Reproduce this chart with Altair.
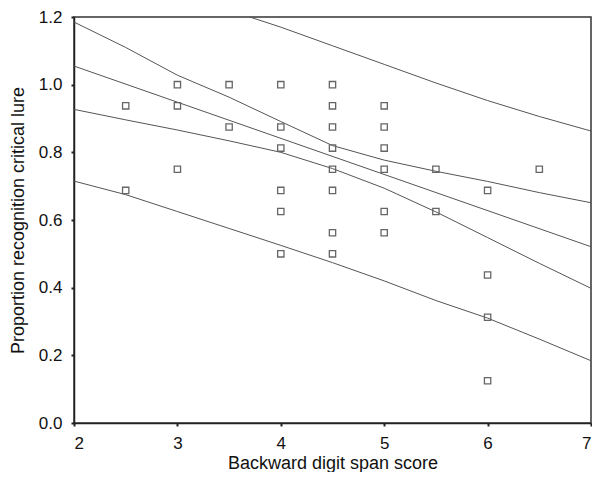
import altair as alt
import pandas as pd

# Scatter points (backward digit span score vs proportion recognition)
pts_x = [2.5, 2.5,
         3, 3, 3,
         3.5, 3.5,
         4, 4, 4, 4, 4, 4,
         4.5, 4.5, 4.5, 4.5, 4.5, 4.5, 4.5, 4.5,
         5, 5, 5, 5, 5, 5,
         5.5, 5.5,
         6, 6, 6, 6,
         6.5]
pts_y = [0.9375, 0.6875,
         1.0, 0.9375, 0.75,
         1.0, 0.875,
         1.0, 0.875, 0.8125, 0.6875, 0.625, 0.5,
         1.0, 0.9375, 0.875, 0.8125, 0.75, 0.6875, 0.5625, 0.5,
         0.9375, 0.875, 0.8125, 0.75, 0.625, 0.5625,
         0.75, 0.625,
         0.6875, 0.4375, 0.3125, 0.125,
         0.75]

# Fit line and interval curves
reg_x = [2, 7]
reg_y = [1.055, 0.521]

ci_x = [2, 2.5, 3, 3.5, 4, 4.5, 5, 5.5, 6, 6.5, 7]
ci_upper = [1.185, 1.11, 1.028, 0.963, 0.891, 0.820, 0.777, 0.744, 0.714, 0.681, 0.651]
ci_lower = [0.927, 0.896, 0.866, 0.834, 0.800, 0.752, 0.694, 0.624, 0.548, 0.472, 0.398]

piu_x = [3.7, 4, 4.5, 5, 5.5, 6, 6.5, 7]
pi_upper = [1.2, 1.17, 1.115, 1.06, 1.005, 0.953, 0.906, 0.863]

pil_x = [2, 2.5, 3, 3.5, 4, 4.5, 5, 5.5, 6, 6.5, 7]
pi_lower = [0.715, 0.675, 0.625, 0.575, 0.525, 0.474, 0.42, 0.362, 0.31, 0.248, 0.184]

x_ticks = [2, 3, 4, 5, 6, 7]
y_ticks = [0.0, 0.2, 0.4, 0.6, 0.8, 1.0, 1.2]

points = pd.DataFrame({"x": pts_x, "y": pts_y})

rows = []
for name, xs, ys in [("reg", reg_x, reg_y),
                     ("ci_upper", ci_x, ci_upper),
                     ("ci_lower", ci_x, ci_lower),
                     ("pi_upper", piu_x, pi_upper),
                     ("pi_lower", pil_x, pi_lower)]:
    for a, b in zip(xs, ys):
        rows.append({"x": a, "y": b, "series": name})
lines = pd.DataFrame(rows)

W, H = 517, 406
FONT = "Liberation Sans"

xscale = alt.Scale(domain=[2, 7], nice=False, zero=False)
yscale = alt.Scale(domain=[0, 1.2], nice=False)

xaxis = alt.Axis(values=x_ticks, format="d", title="Backward digit span score",
                 titleX=W / 2, titleY=45, titleBaseline="alphabetic", titleAlign="center")
yaxis = alt.Axis(values=y_ticks, format=".1f", title="Proportion recognition critical lure",
                 titleX=-65, titleY=H / 2, titleAngle=270, titleBaseline="top",
                 titleAlign="center")

line_layer = alt.Chart(lines).mark_line(color="#555555", strokeWidth=1).encode(
    x=alt.X("x:Q", scale=xscale, axis=xaxis),
    y=alt.Y("y:Q", scale=yscale, axis=yaxis),
    detail="series:N",
)

point_layer = alt.Chart(points).mark_point(
    shape="square", filled=False, size=40, strokeWidth=1.3, color="#666666", opacity=1
).encode(
    x=alt.X("x:Q", scale=xscale),
    y=alt.Y("y:Q", scale=yscale),
)

chart = alt.layer(line_layer, point_layer).properties(
    width=W, height=H,
    autosize=alt.AutoSizeParams(type="none"),
    padding={"left": 66, "top": 9, "right": 1, "bottom": 49},
    background="white",
).configure_view(
    stroke="#333333", strokeWidth=1.5
).configure_axis(
    grid=False,
    domainColor="#222222", domainWidth=1.5,
    tickColor="#222222", tickSize=3, tickWidth=2,
    labelFont=FONT, labelFontSize=17, labelColor="#111111", labelPadding=9,
    titleFont=FONT, titleFontSize=18, titleColor="#111111", titleFontWeight="normal",
)

chart.save("out.html", embed_options={"renderer": "svg", "actions": False})
